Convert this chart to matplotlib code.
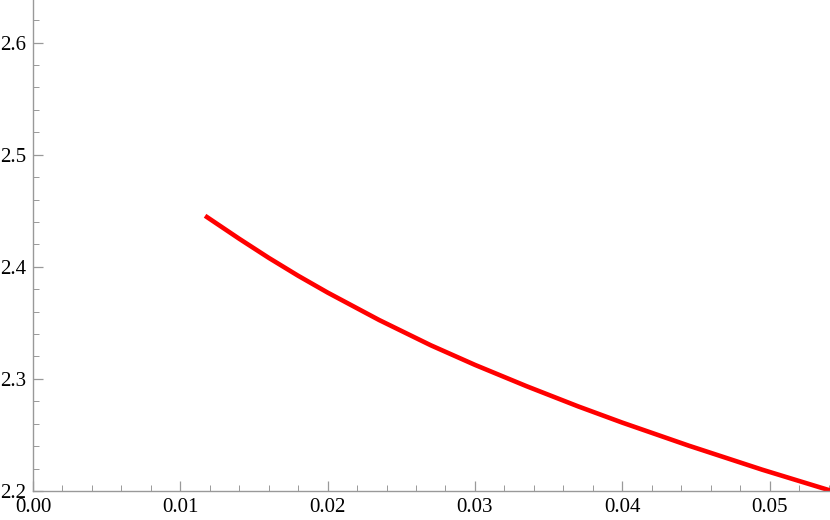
import matplotlib
matplotlib.use("Agg")
import matplotlib.pyplot as plt
from matplotlib.ticker import MultipleLocator, FormatStrFormatter

# Data
x_vals = [0.01168, 0.0140, 0.0160, 0.0180, 0.0200, 0.0235, 0.0270, 0.0300,
          0.0335, 0.0370, 0.0400, 0.0445, 0.0495, 0.0541]
y_vals = [2.4455, 2.4250, 2.4080, 2.3920, 2.3770, 2.3525, 2.3300, 2.3125,
          2.2935, 2.2755, 2.2610, 2.2405, 2.2190, 2.2005]

x_ticks = [0.00, 0.01, 0.02, 0.03, 0.04, 0.05]
y_ticks = [2.2, 2.3, 2.4, 2.5, 2.6]

plt.rcParams['font.family'] = ['Liberation Serif', 'DejaVu Serif']

fig = plt.figure(figsize=(8.3, 5.2), dpi=100)
ax = fig.add_axes([33 / 830, 29 / 520, 797 / 830, 491 / 520])

ax.plot(x_vals, y_vals, color='#ff0000', linewidth=3.3, solid_capstyle='butt',
        solid_joinstyle='round')

ax.set_xlim(0, 0.0541)
ax.set_ylim(2.2, 2.638)

ax.set_xticks(x_ticks)
ax.set_yticks(y_ticks)
ax.xaxis.set_major_formatter(FormatStrFormatter('%.2f'))
ax.yaxis.set_major_formatter(FormatStrFormatter('%.1f'))
ax.xaxis.set_minor_locator(MultipleLocator(0.002))
ax.yaxis.set_minor_locator(MultipleLocator(0.02))

axis_gray = '#999999'
for side in ['top', 'right']:
    ax.spines[side].set_visible(False)
for side in ['left', 'bottom']:
    ax.spines[side].set_color(axis_gray)
    ax.spines[side].set_linewidth(1.0)

ax.tick_params(which='major', direction='in', length=7, width=0.9, color=axis_gray,
               labelsize=15, labelcolor='black')
ax.tick_params(which='minor', direction='in', length=4.3, width=0.7, color=axis_gray)
ax.tick_params(axis='x', which='major', pad=5)
ax.tick_params(axis='y', which='major', pad=5)

for lbl in ax.get_xticklabels() + ax.get_yticklabels():
    lbl.set_clip_on(False)

fig.savefig('out.png', dpi=100)
